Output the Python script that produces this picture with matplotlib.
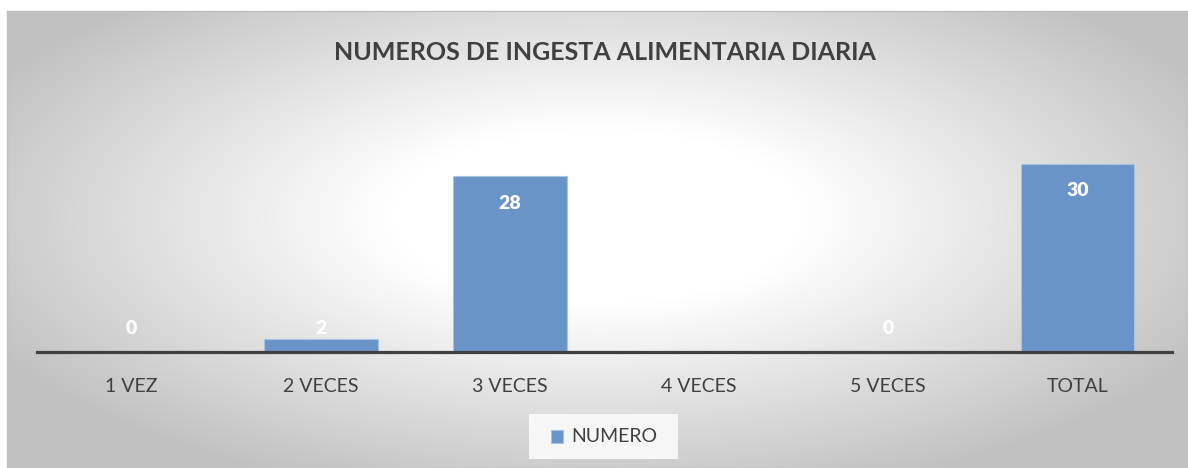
import numpy as np
import matplotlib.pyplot as plt

# Datos
categorias = ["1 VEZ", "2 VECES", "3 VECES", "4 VECES", "5 VECES", "TOTAL"]
numero = [0, 2, 28, np.nan, 0, 30]
titulo = "NUMEROS DE INGESTA ALIMENTARIA DIARIA"
serie = "NUMERO"

plt.rcParams['font.family'] = ['Lato', 'DejaVu Sans']
gris_texto = "#404040"
azul = "#6894c7"

W, H = 1188, 468
fig = plt.figure(figsize=(W / 100, H / 100), dpi=100)
fig.patch.set_facecolor("white")

# fondo con degradado radial (estilo Excel)
bg = fig.add_axes([7 / W, 0, 1 - 7 / W, (H - 11) / H])
nx, ny = 600, 240
xx, yy = np.meshgrid(np.linspace(0, 1, nx), np.linspace(0, 1, ny))
r = np.sqrt(((xx - 0.5) / 0.5) ** 2 + ((yy - 0.45) / 0.55) ** 2)
t = np.clip((r - 0.35) / 0.8, 0, 1)
gris = 1 - t * (1 - 0.76)
bg.imshow(np.dstack([gris, gris, gris]), aspect="auto", extent=[0, 1, 0, 1],
          interpolation="bilinear")
bg.set_xlim(0, 1)
bg.set_ylim(0, 1)
for s in bg.spines.values():
    s.set_color("#bfbfbf")
    s.set_linewidth(1)
bg.set_xticks([])
bg.set_yticks([])

# grafico de barras
ymax = 35
px_por_unidad = 6.27
alto_ax = ymax * px_por_unidad
ax = fig.add_axes([37 / W, 116 / H, (1172 - 37) / W, alto_ax / H])
ax.patch.set_alpha(0)
x = np.arange(len(categorias))
alturas = [0 if np.isnan(v) else v for v in numero]
ax.bar(x, alturas, width=0.6, color=azul, edgecolor="#a8c3e2", linewidth=0.8,
       zorder=2)
ax.set_xlim(-0.5, len(categorias) - 0.5)
ax.set_ylim(0, ymax)

for xi, v in zip(x, numero):
    if np.isnan(v):
        continue
    ax.text(xi, max(v - 4.3, 3.8), f"{int(v)}", ha="center", va="center",
            color="white", fontsize=14, fontweight="heavy", zorder=3)

for s in ["top", "right", "left"]:
    ax.spines[s].set_visible(False)
ax.spines["bottom"].set_color(gris_texto)
ax.spines["bottom"].set_linewidth(2.3)
ax.spines["bottom"].set_zorder(4)
ax.set_yticks([])
ax.set_xticks(x)
ax.set_xticklabels(categorias, fontsize=14, color=gris_texto)
ax.tick_params(axis="x", length=0, pad=19)

fig.text(605 / W, 1 - 52 / H, titulo, ha="center", va="center",
         fontsize=18, fontweight="bold", color=gris_texto)

# leyenda
leg_ax = fig.add_axes([529 / W, (H - 459) / H, 149 / W, 45 / H])
leg_ax.set_xlim(0, 149)
leg_ax.set_ylim(0, 45)
leg_ax.set_facecolor("#f6f6f6")
for s in leg_ax.spines.values():
    s.set_visible(False)
leg_ax.set_xticks([])
leg_ax.set_yticks([])
leg_ax.add_patch(plt.Rectangle((22, 16), 12, 13, facecolor=azul,
                               edgecolor="#a8c3e2", linewidth=0.8))
leg_ax.text(42, 22.5, serie, ha="left", va="center", fontsize=14,
            color=gris_texto)

fig.savefig("out.png", dpi=100)
